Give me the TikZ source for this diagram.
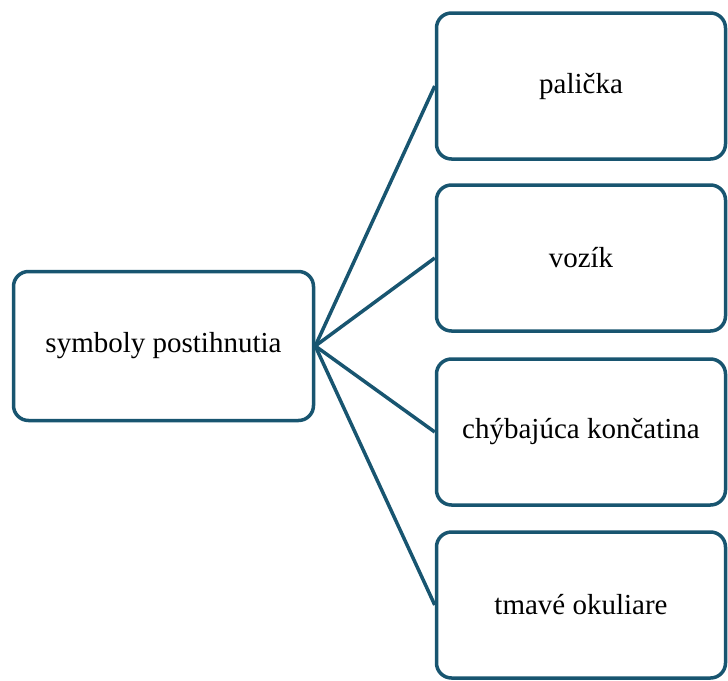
\documentclass[tikz,border=0pt]{standalone}
\usepackage{fontspec}
\setmainfont{Liberation Serif}
\definecolor{edge}{RGB}{24,85,112}
\begin{document}
\begin{tikzpicture}[x=1pt,y=-1pt,
  box/.style={draw=edge,line width=3.5pt,rounded corners=15pt,fill=white,
    font=\fontsize{29}{34}\selectfont,inner sep=0pt},
  link/.style={draw=edge,line width=3.5pt}]
\useasboundingbox (0,0) rectangle (728,680);
\node[box,minimum width=300pt,minimum height=149pt] (root) at (163.5,346) {symboly postihnutia};
\node[box,minimum width=289pt,minimum height=146pt] (a) at (581,86) {palička};
\node[box,minimum width=289pt,minimum height=146pt] (b) at (581,258) {vozík};
\node[box,minimum width=289pt,minimum height=146pt] (c) at (581,432) {chýbajúca končatina};
\node[box,minimum width=289pt,minimum height=146pt] (d) at (581,605) {tmavé okuliare};
\foreach \t in {a,b,c,d}{\draw[link] (root.east) -- (\t.west);}
\end{tikzpicture}
\end{document}
